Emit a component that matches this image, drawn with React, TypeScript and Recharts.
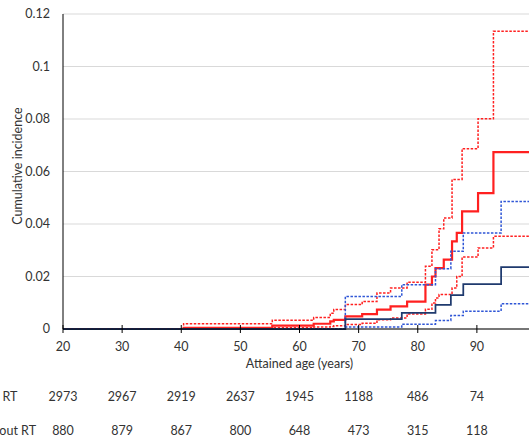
import { LineChart, Line, XAxis, YAxis, CartesianGrid } from "recharts";

// age grid shared by each group's estimate and confidence limits (step changes)
const rtAges = [20, 40.4, 55.4, 62.4, 65.2, 65.8, 67.75, 70.6, 73.1, 75.4, 78.2, 81.3, 82.4, 83.0, 83.6, 84.4, 85.8, 86.6, 87.5, 90.2, 92.8, 100];
const rtEst = [0, 0.0004, 0.0013, 0.002, 0.0029, 0.0035, 0.0048, 0.0057, 0.0074, 0.0086, 0.0104, 0.0169, 0.02, 0.0232, 0.0232, 0.0264, 0.0334, 0.0366, 0.0448, 0.0518, 0.0674, 0.0674];
const rtHigh = [0, 0.002, 0.0033, 0.0044, 0.006, 0.0074, 0.0093, 0.0105, 0.0137, 0.0156, 0.0178, 0.0239, 0.0302, 0.0302, 0.0382, 0.0423, 0.057, 0.057, 0.0687, 0.0801, 0.1134, 0.1134];
const rtLow = [0, 0.0001, 0.0005, 0.0008, 0.001, 0.0012, 0.0017, 0.0022, 0.0035, 0.0042, 0.0057, 0.0075, 0.0099, 0.0118, 0.0131, 0.0131, 0.0156, 0.02, 0.0274, 0.0309, 0.0353, 0.0353];

const noRtAges = [20, 67.75, 77.3, 83.0, 85.6, 87.7, 94.1, 100];
const noRtEst = [0, 0.0038, 0.0061, 0.0092, 0.0129, 0.0171, 0.0236, 0.0236];
const noRtHigh = [0, 0.0124, 0.0169, 0.023, 0.0296, 0.0366, 0.0486, 0.0486];
const noRtLow = [0, 0.0008, 0.0018, 0.0032, 0.0051, 0.0068, 0.0096, 0.0096];

// numbers at risk under the x axis
const ageTicks = [20, 30, 40, 50, 60, 70, 80, 90];
const atRiskRt = [2973, 2967, 2919, 2637, 1945, 1188, 486, 74];
const atRiskNoRt = [880, 879, 867, 800, 648, 473, 315, 118];
const yTicks = [0, 0.02, 0.04, 0.06, 0.08, 0.1, 0.12];

const FONT = "Lato, 'Open Sans', sans-serif";
const TEXT = "#333";

const toPoints = (ages: number[], vals: number[]) => ages.map((age, i) => ({ age, v: vals[i] }));

function AgeTick(props: any) {
  const { x, y, payload } = props;
  const i = ageTicks.indexOf(payload.value);
  return (
    <g fontFamily={FONT} fontSize={12.5} fill={TEXT}>
      <line x1={x} x2={x} y1={y - 4} y2={y + 4} stroke="#000" strokeWidth={1} />
      <text x={x} y={y + 21.5} textAnchor="middle">{payload.value}</text>
      <text x={x} y={y + 72} textAnchor="middle">{atRiskRt[i]}</text>
      <text x={x} y={y + 106} textAnchor="middle">{atRiskNoRt[i]}</text>
      {i === 0 && (
        <>
          <text x={x - 91} y={y + 72}>With RT</text>
          <text x={x - 91} y={y + 106}>Without RT</text>
        </>
      )}
    </g>
  );
}

export default function App() {
  const dash = { strokeDasharray: "2.5 1.5", dot: false, isAnimationActive: false, type: "stepAfter" as const };
  return (
    <div style={{ position: "absolute", left: 0, top: 0, width: 529, height: 438, overflow: "hidden", background: "#fff" }}>
      <LineChart width={540} height={438} margin={{ top: 14, right: 4, bottom: 0, left: 0 }}>
        <CartesianGrid vertical={false} stroke="#d9d9d9" />
        <XAxis
          type="number"
          dataKey="age"
          domain={[20, 100]}
          ticks={ageTicks}
          allowDataOverflow
          height={109}
          tickLine={false}
          tickSize={0}
          tickMargin={0}
          axisLine={{ stroke: "#000" }}
          tick={<AgeTick />}
          interval={0}
          label={{
            value: "Attained age (years)",
            position: "insideBottom",
            offset: 70,
            style: { fontFamily: FONT, fontSize: 12.5, fill: TEXT },
          }}
        />
        <YAxis
          type="number"
          domain={[0, 0.12]}
          ticks={yTicks}
          width={63}
          tickLine={false}
          tickSize={0}
          tickMargin={13}
          axisLine={{ stroke: "#000" }}
          tick={{ fontFamily: FONT, fontSize: 12.5, fill: TEXT }}
          tickFormatter={(v: number) => String(+v.toFixed(2))}
          label={() => (
            <text transform="translate(17,166) rotate(-90)" textAnchor="middle" dominantBaseline="central" fontFamily={FONT} fontSize={12.5} fill={TEXT}>
              Cumulative incidence
            </text>
          )}
        />
        <Line data={toPoints(rtAges, rtLow)} dataKey="v" stroke="#ff2020" strokeWidth={1.5} {...dash} />
        <Line data={toPoints(rtAges, rtHigh)} dataKey="v" stroke="#ff2020" strokeWidth={1.5} {...dash} />
        <Line data={toPoints(rtAges, rtEst)} dataKey="v" type="stepAfter" stroke="#ff2020" strokeWidth={2.2} dot={false} isAnimationActive={false} />
        <Line data={toPoints(noRtAges, noRtLow)} dataKey="v" stroke="#2f56d6" strokeWidth={1.5} {...dash} />
        <Line data={toPoints(noRtAges, noRtHigh)} dataKey="v" stroke="#2f56d6" strokeWidth={1.5} {...dash} />
        <Line data={toPoints(noRtAges, noRtEst)} dataKey="v" type="stepAfter" stroke="#1f3a6e" strokeWidth={1.75} dot={false} isAnimationActive={false} />
      </LineChart>
    </div>
  );
}
